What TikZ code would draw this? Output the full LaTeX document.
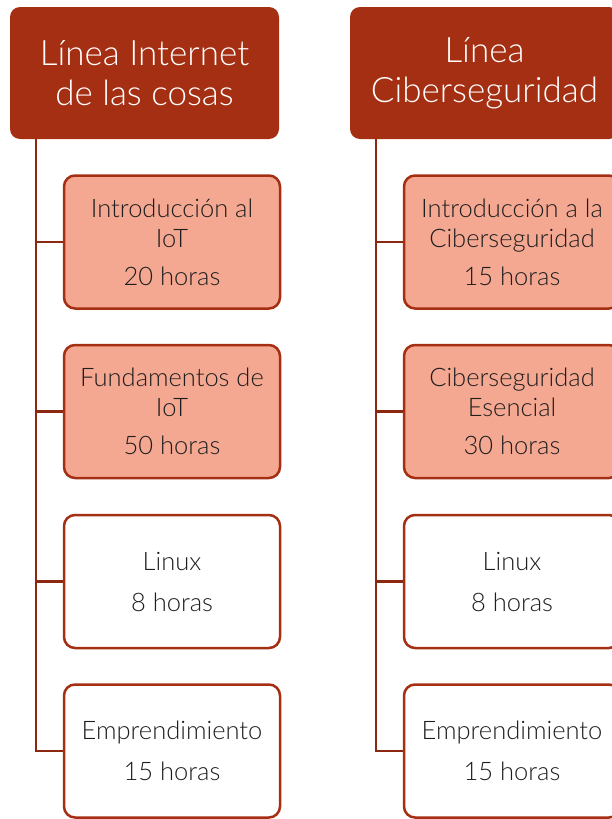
\documentclass[tikz,border=0pt]{standalone}
\usepackage{fontspec}
\setmainfont{Lato Light}
\definecolor{dred}{RGB}{165,47,18}
\definecolor{lsalmon}{RGB}{244,167,145}
\definecolor{txt}{RGB}{30,30,30}
\begin{document}
\begin{tikzpicture}[x=1pt,y=-1pt,
  head/.style={rectangle, rounded corners=10pt, fill=dred, draw=none,
    minimum width=269pt, minimum height=132pt, text=white, align=center,
    font=\fontsize{35}{40}\selectfont, inner sep=0pt},
  boxa/.style={rectangle, rounded corners=11pt, draw=dred, line width=2.5pt,
    minimum width=216pt, minimum height=133pt, text=txt, align=center,
    font=\fontsize{25.5}{30}\selectfont, inner sep=0pt},
  hot/.style={boxa, fill=lsalmon},
  cold/.style={boxa, fill=white},
  conn/.style={draw=dred!85!black, line width=2.5pt}]
\useasboundingbox (0,0) rectangle (612,819);
\clip (0,0) rectangle (612,819);

% Left column
\node[head] (h1) at (144.5,73) {Línea Internet\\de las cosas};
\coordinate (s1) at ([xshift=26pt]h1.south west);
\node[hot]  (a1) at (172,242)   {Introducción al\\IoT\\[8pt]20 horas};
\node[hot]  (a2) at (172,411.5) {Fundamentos de\\IoT\\[8pt]50 horas};
\node[cold] (a3) at (172,581.5) {Linux\\[11pt]8 horas};
\node[cold] (a4) at (172,751)   {Emprendimiento\\[11pt]15 horas};
\draw[conn] (s1) |- (a4.west);
\foreach \n in {a1,a2,a3} \draw[conn] (\n.west -| s1) -- (\n.west);

% Right column
\node[head] (h2) at (484.5,73) {Línea\\Ciberseguridad};
\coordinate (s2) at ([xshift=26pt]h2.south west);
\node[hot]  (b1) at (512,242)   {Introducción a la\\Ciberseguridad\\[8pt]15 horas};
\node[hot]  (b2) at (512,411.5) {Ciberseguridad\\Esencial\\[8pt]30 horas};
\node[cold] (b3) at (512,581.5) {Linux\\[11pt]8 horas};
\node[cold] (b4) at (512,751)   {Emprendimiento\\[11pt]15 horas};
\draw[conn] (s2) |- (b4.west);
\foreach \n in {b1,b2,b3} \draw[conn] (\n.west -| s2) -- (\n.west);
\end{tikzpicture}
\end{document}
